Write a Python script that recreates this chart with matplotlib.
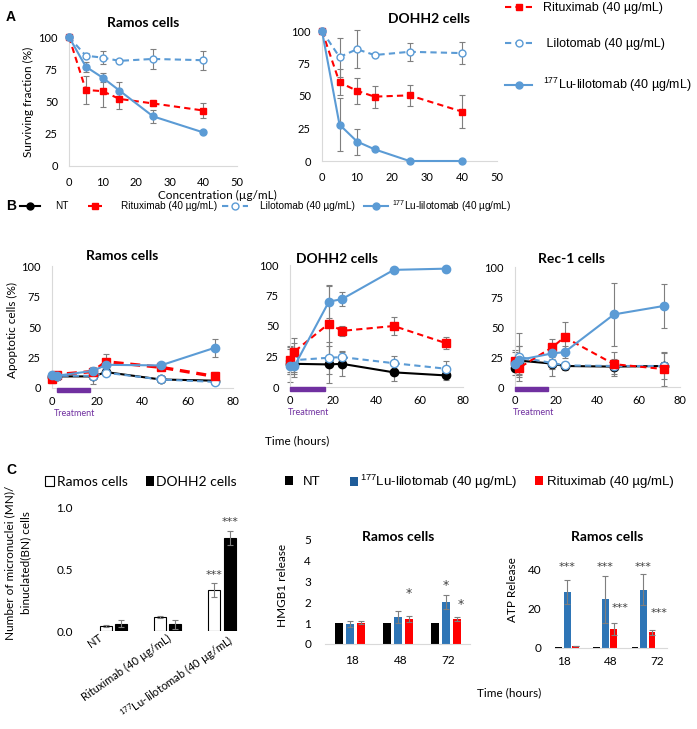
import matplotlib
matplotlib.use('Agg')
import matplotlib.pyplot as plt
from matplotlib.lines import Line2D
from matplotlib.patches import Patch, Rectangle
from matplotlib.transforms import blended_transform_factory
import numpy as np

plt.rcParams['font.family'] = ['Lato', 'DejaVu Sans']
plt.rcParams['mathtext.default'] = 'regular'

# ---- data: panel A (surviving fraction, %) ----
conc = [0, 5, 10, 15, 25, 40]
ramos_rit = [100, 59, 58, 52, 48.5, 43]
ramos_rit_err = [0, 11, 12, 7.5, 2, 6]
ramos_lil = [100, 85.5, 84, 81.5, 83, 82]
ramos_lil_err = [0, 2, 5, 1, 7.5, 7.5]
ramos_lu = [100, 77, 68.5, 58.5, 38.5, 26]
ramos_lu_err = [0, 4, 3.5, 7, 5, 0]

dohh2_rit = [100, 60.5, 54, 49.5, 50.5, 38]
dohh2_rit_err = [0, 10, 10, 8.5, 8, 12.5]
dohh2_lil = [100, 80, 86, 81.5, 84, 83]
dohh2_lil_err = [0, 15, 14.5, 1, 7, 8.5]
dohh2_lu = [100, 28, 15, 9, 0, 0]
dohh2_lu_err = [0, 20.5, 10, 0, 0, 0]

# ---- data: panel B (apoptotic cells, %) ----
hours = [0, 2, 18, 24, 48, 72]
b_ramos = {
    'nt': ([9, 9.5, 9.5, 13, 7, 6], [3, 3, 6.5, 2, 2, 2]),
    'rit': ([7.5, 11, 13.5, 21.5, 17, 9.5], [3, 2, 3, 6, 2, 4]),
    'lil': ([10, 10, 10, 12.5, 7, 5], [2, 2, 2, 2, 1.5, 1.5]),
    'lu': ([11, 10, 14, 19, 18.5, 33], [2, 2, 3, 2, 2, 7.5]),
}
b_dohh2 = {
    'nt': ([19, 19, 18.5, 19, 12, 9.5], [15, 8, 15, 10, 7, 4]),
    'rit': ([22, 29, 52, 46, 50, 36], [11, 11, 31, 4, 7, 5]),
    'lil': ([21, 22, 24, 24.5, 19.5, 15], [10, 14, 13, 5, 6, 6]),
    'lu': ([17, 17, 70, 72, 96, 97], [5, 5, 13.5, 6, 1, 2]),
}
b_rec1 = {
    'nt': ([16, 22, 19.5, 17.5, 17, 17.5], [6, 12, 10, 3, 6, 11]),
    'rit': ([22, 16, 33, 41.5, 19, 15], [9, 8, 7, 13, 10, 14]),
    'lil': ([21, 25, 20, 18, 17.5, 17.5], [8, 20, 5, 3, 3, 3]),
    'lu': ([19, 22.5, 28, 29, 60.5, 67.5], [5, 12, 5, 5, 26, 18]),
}

# ---- data: panel C ----
mn_groups = ['NT', 'Rituximab (40 µg/mL)', '$^{177}$Lu-lilotomab (40 µg/mL)']
mn_ramos = [0.04, 0.11, 0.33]
mn_ramos_err = [0.005, 0.008, 0.055]
mn_dohh2 = [0.06, 0.055, 0.75]
mn_dohh2_err = [0.03, 0.035, 0.06]

time_labels = ['18', '48', '72']
hmgb1_nt = [1, 1, 1]
hmgb1_lu = [0.95, 1.3, 2.03]
hmgb1_lu_err = [0.15, 0.3, 0.33]
hmgb1_rit = [1.02, 1.2, 1.2]
hmgb1_rit_err = [0.07, 0.15, 0.1]

atp_nt = [0.5, 0.5, 0.5]
atp_lu = [28.5, 24.8, 29.8]
atp_lu_err = [6, 12, 8]
atp_rit = [0.8, 9.6, 8.0]
atp_rit_err = [0, 3, 1.2]

RED = '#FF0000'
LBLUE = '#5B9BD5'
DBLUE = '#2E75B6'
GRAY = '#7F7F7F'
SPINE = '#D9D9D9'
PURPLE = '#7030A0'
ARIAL = 'Liberation Sans'
STAR = dict(family='DejaVu Sans', color='#404040')

STY = {
    'nt': dict(color='black', marker='o', ls='-', mfc='black'),
    'rit': dict(color=RED, marker='s', ls='--', mfc=RED),
    'lil': dict(color=LBLUE, marker='o', ls='--', mfc='white'),
    'lu': dict(color=LBLUE, marker='o', ls='-', mfc=LBLUE),
}

W, H = 697, 729
fig = plt.figure(figsize=(W / 100, H / 100), dpi=100)


def add_ax(l, t, r, b):
    return fig.add_axes([l / W, 1 - b / H, (r - l) / W, (b - t) / H])


def ftext(x, y, s, **kw):
    return fig.text(x / W, 1 - y / H, s, **kw)


def style(ax, spines=('left', 'bottom'), xpad=6, ypad=7, size=8):
    for s in ax.spines:
        ax.spines[s].set_visible(s in spines)
        ax.spines[s].set_color(SPINE)
    ax.tick_params(length=0, labelsize=size, colors='black')
    ax.tick_params(axis='x', pad=xpad)
    ax.tick_params(axis='y', pad=ypad)
    ax.set_facecolor('none')


def line_handle(k, lw=1.5, ms=5):
    st = STY[k]
    return Line2D([], [], lw=lw, ms=ms, color=st['color'], ls=st['ls'],
                  dashes=(3, 2) if st['ls'] == '--' else (None, None),
                  marker=st['marker'], mfc=st['mfc'], mec=st['color'])


def legend_at(handle, label, x, y, size, hl_px, gap_px, family=ARIAL, hh=0.7):
    em = size * 100 / 72
    fig.legend([handle], [label], loc='center left', bbox_to_anchor=(x / W, 1 - y / H),
               frameon=False, prop={'family': family, 'size': size}, borderpad=0,
               borderaxespad=0, handlelength=hl_px / em, handletextpad=gap_px / em,
               handleheight=hh)


def series(ax, x, y, e, key, lw=1.4, ms=5):
    st = STY[key]
    ax.errorbar(x, y, yerr=e, ecolor=GRAY, elinewidth=0.8, capsize=2.2,
                capthick=0.8, zorder=2, fmt='none', clip_on=False)
    ax.plot(x, y, color=st['color'], ls=st['ls'], lw=lw, marker=st['marker'],
            ms=ms, mfc=st['mfc'], mec=st['color'], mew=1.0, zorder=3,
            clip_on=False, dashes=(3, 2) if st['ls'] == '--' else (None, None))


# ================= Panel A =================
ftext(6, 17, 'A', fontsize=10, fontweight='bold', family=ARIAL, va='center')

panelA = [
    ((69, 37, 237, 166), (143, 23), 'Ramos cells',
     [(ramos_rit, ramos_rit_err, 'rit'), (ramos_lil, ramos_lil_err, 'lil'), (ramos_lu, ramos_lu_err, 'lu')]),
    ((322, 31, 497, 161), (429, 19), 'DOHH2 cells',
     [(dohh2_rit, dohh2_rit_err, 'rit'), (dohh2_lil, dohh2_lil_err, 'lil'), (dohh2_lu, dohh2_lu_err, 'lu')]),
]
for box, tpos, title, sers in panelA:
    ax = add_ax(*box)
    style(ax, xpad=8, ypad=8)
    for y, e, k in sers:
        series(ax, conc, y, e, k, lw=1.5, ms=5)
    ax.set_xlim(0, 50)
    ax.set_ylim(0, 100)
    ax.set_xticks(np.arange(0, 51, 10))
    ax.set_yticks(np.arange(0, 101, 25))
    ftext(*tpos, title, fontsize=10, fontweight='bold', ha='center', va='center')

ftext(28, 102, 'Surviving fraction (%)', rotation=90, fontsize=8.5, ha='center', va='center')
ftext(217, 195, 'Concentration (µg/mL)', fontsize=8.5, ha='center', va='center')

for k, lab, yy in [('rit', 'Rituximab (40 µg/mL)', 8),
                   ('lil', ' Lilotomab (40 µg/mL)', 44),
                   ('lu', '$^{177}$Lu-lilotomab (40 µg/mL)', 85)]:
    legend_at(line_handle(k), lab, 505, yy, 9, 27, 11)

# ================= Panel B =================
ftext(6, 206, 'B', fontsize=10, fontweight='bold', family=ARIAL, va='center')
for k, lab, x0, hl, tx in [('nt', 'NT', 20, 20, 55),
                           ('rit', 'Rituximab (40 µg/mL)', 88, 14, 121),
                           ('lil', 'Lilotomab (40 µg/mL)', 222, 26, 260),
                           ('lu', '$^{177}$Lu-lilotomab (40 µg/mL)', 364, 24, 392)]:
    legend_at(line_handle(k), lab, x0, 206, 7.2, hl, tx - x0 - hl)

panelB = [
    ((52, 266, 233, 388), (122, 256), 'Ramos cells', b_ramos, (2, 17), 2.4),
    ((290, 265, 463, 387), (337, 259), 'DOHH2 cells', b_dohh2, (0, 16), 1.5),
    ((515, 267, 680, 387), (572, 259), 'Rec-1 cells', b_rec1, (0, 16), 1.5),
]
for box, tpos, title, d, treat, rit_lw in panelB:
    ax = add_ax(*box)
    style(ax, xpad=6, ypad=8)
    for k in ('nt', 'lil', 'rit', 'lu'):
        y, e = d[k]
        series(ax, hours, y, e, k, lw=rit_lw if k == 'rit' else 1.5, ms=6)
    ax.set_xlim(0, 80)
    ax.set_ylim(0, 100)
    ax.set_xticks(np.arange(0, 81, 20))
    ax.set_yticks(np.arange(0, 101, 25))
    ftext(*tpos, title, fontsize=10, fontweight='bold', ha='center', va='center')
    tr = blended_transform_factory(ax.transData, ax.transAxes)
    ax.add_patch(Rectangle((treat[0], -0.035), treat[1] - treat[0], 0.032, transform=tr,
                           color=PURPLE, clip_on=False, zorder=4))
    ax.text(treat[0] - 1, -0.21, 'Treatment', transform=tr, color=PURPLE, fontsize=6.5,
            ha='left', va='center')

ftext(12, 330, 'Apoptotic cells (%)', rotation=90, fontsize=8.5, ha='center', va='center')
ftext(297, 441, 'Time (hours)', fontsize=8.5, ha='center', va='center')

# ================= Panel C =================
ftext(6, 470, 'C', fontsize=10, fontweight='bold', family=ARIAL, va='center')

# micronuclei
ax = add_ax(80, 507, 250, 631)
style(ax, spines=(), ypad=5, size=8.5)
xc = np.arange(len(mn_groups))
bw = 0.22
ax.bar(xc - 0.14, mn_ramos, bw, color='white', edgecolor='black', lw=0.8,
       yerr=mn_ramos_err, ecolor=GRAY, error_kw=dict(elinewidth=0.8, capsize=2.5, capthick=0.8))
ax.bar(xc + 0.14, mn_dohh2, bw, color='black', edgecolor='black', lw=0.8,
       yerr=mn_dohh2_err, ecolor=GRAY, error_kw=dict(elinewidth=0.8, capsize=2.5, capthick=0.8))
ax.set_xlim(-0.617, 2.516)
ax.set_ylim(0, 1.0)
ax.set_yticks([0, 0.5, 1.0])
ax.set_yticklabels(['0.0', '0.5', '1.0'])
ax.set_xticks(xc + np.array([-0.28, -0.02, 0.1]))
ax.set_xticklabels(mn_groups, rotation=35, ha='right', va='top', rotation_mode='anchor',
                   fontsize=8)
ax.tick_params(axis='x', pad=1)
ax.text(xc[2] - 0.14, mn_ramos[2] + mn_ramos_err[2] + 0.03, '***', ha='center', va='bottom',
        fontsize=8, **STAR)
ax.text(xc[2] + 0.14, mn_dohh2[2] + mn_dohh2_err[2] + 0.03, '***', ha='center', va='bottom',
        fontsize=8, **STAR)
legend_at(Patch(facecolor='white', edgecolor='black', lw=0.8), 'Ramos cells', 45, 482, 10, 9, 3,
          family=['Lato', 'DejaVu Sans'], hh=0.65)
legend_at(Patch(facecolor='black'), 'DOHH2 cells', 146, 482, 10, 8, 2,
          family=['Lato', 'DejaVu Sans'], hh=0.65)
ftext(10, 563, 'Number of micronuclei (MN)/', rotation=90, fontsize=8.5, ha='center', va='center')
ftext(26, 563, 'binuclated(BN) cells', rotation=90, fontsize=8.5, ha='center', va='center')

# legend for HMGB1 / ATP
for fc, lab, x0, tx in [('black', 'NT', 285, 303),
                        ('#1F5C99', '$^{177}$Lu-lilotomab (40 µg/mL)', 350, 360),
                        (RED, 'Rituximab (40 µg/mL)', 535, 547)]:
    legend_at(Patch(facecolor=fc), lab, x0, 482, 9.5, 8, tx - x0 - 8, hh=0.62)

ekw = dict(elinewidth=0.8, capsize=2.2, capthick=0.8)
# HMGB1
ax = add_ax(325, 540, 470, 644)
style(ax, spines=('bottom',), xpad=8, ypad=10, size=8.5)
xt = np.arange(len(time_labels))
bw = 0.17
ax.bar(xt - 0.235, hmgb1_nt, bw, color='black')
ax.bar(xt, hmgb1_lu, bw, color=DBLUE, yerr=hmgb1_lu_err, ecolor=GRAY, error_kw=ekw)
ax.bar(xt + 0.225, hmgb1_rit, bw, color=RED, yerr=hmgb1_rit_err, ecolor=GRAY, error_kw=ekw)
ax.set_xlim(-0.52, 2.5)
ax.set_ylim(0, 5)
ax.set_yticks(range(6))
ax.set_xticks(xt + 0.05)
ax.set_xticklabels(time_labels)
ftext(398, 537, 'Ramos cells', fontsize=10, fontweight='bold', ha='center', va='center')
ax.text(xt[1] + 0.225, 2.45, '*', ha='center', va='center', fontsize=9, **STAR)
ax.text(xt[2], 2.8, '*', ha='center', va='center', fontsize=9, **STAR)
ax.text(xt[2] + 0.3, 1.9, '*', ha='center', va='center', fontsize=9, **STAR)
ftext(283, 585, 'HMGB1 release', rotation=90, fontsize=8.5, ha='center', va='center')

# ATP
ax = add_ax(555, 550, 667, 648)
style(ax, spines=('bottom',), xpad=6, ypad=10, size=8.5)
bw = 0.18
ax.bar(xt - 0.22, atp_nt, bw, color='black')
ax.bar(xt, atp_lu, bw, color=DBLUE, yerr=atp_lu_err, ecolor=GRAY, error_kw=ekw)
ax.bar(xt + 0.225, atp_rit, bw, color=RED, yerr=atp_rit_err, ecolor=GRAY, error_kw=ekw)
ax.set_xlim(-0.32, 2.62)
ax.set_ylim(0, 50)
ax.set_yticks([0, 20, 40])
ax.set_xticks(xt * 1.22 - 0.09)
ax.set_xticklabels(time_labels)
ftext(607, 537, 'Ramos cells', fontsize=10, fontweight='bold', ha='center', va='center')
for i in xt:
    ax.text(i, 41.5, '***', ha='center', va='center', fontsize=8, **STAR)
ax.text(xt[1] + 0.38, 20.5, '***', ha='center', va='center', fontsize=8, **STAR)
ax.text(xt[2] + 0.4, 18, '***', ha='center', va='center', fontsize=8, **STAR)
ftext(513, 590, 'ATP Release', rotation=90, fontsize=8.5, ha='center', va='center')
ftext(509, 693, 'Time (hours)', fontsize=8.5, ha='center', va='center')

fig.savefig('out.png', dpi=100)
